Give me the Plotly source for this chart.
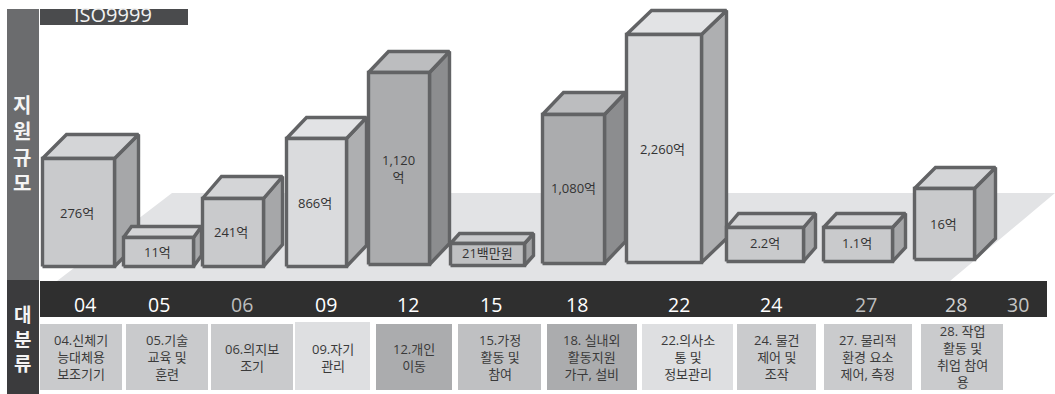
import plotly.graph_objects as go

# ---- chart content ----
codes = ["04", "05", "06", "09", "12", "15", "18", "22", "24", "27", "28", "30"]
code_tones = ["#ffffff", "#ffffff", "#bdbdbd", "#ffffff", "#ffffff", "#ffffff", "#ffffff",
              "#ffffff", "#ffffff", "#bdbdbd", "#d0d0d0", "#c4c4c4"]
value_labels = ["276억", "11억", "241억", "866억", "1,120<br>억", "21백만원",
                "1,080억", "2,260억", "2.2억", "1.1억", "16억"]
# schematic column heights on the hidden vertical axis
column_heights = [111, 32, 71, 131, 195, 25, 152, 231, 37, 37, 74]
category_names = [
    "04.신체기<br>능대체용<br>보조기기", "05.기술<br>교육 및<br>훈련", "06.의지보<br>조기",
    "09.자기<br>관리", "12.개인<br>이동", "15.가정<br>활동 및<br>참여",
    "18. 실내외<br>활동지원<br>가구, 설비", "22.의사소<br>통 및<br>정보관리",
    "24. 물건<br>제어 및<br>조작", "27. 물리적<br>환경 요소<br>제어, 측정",
    "28. 작업<br>활동 및<br>취업 참여<br>용",
]

# ---- layout of the columns (axis units = pixels) ----
W, H = 1055, 394
col_left = [41, 122, 201, 285, 367, 449, 541, 625, 725, 822, 913]
col_right = [116, 195, 265, 348, 431, 526, 606, 703, 805, 894, 976]
col_floor = [268, 268, 268, 268, 266, 267, 265, 264, 263, 263, 261]
col_dx = [24, 8, 19, 20, 20, 9, 21, 25, 12, 13, 21]
col_dy = [24, 11, 22, 21, 21, 10, 22, 24, 14, 14, 21]

# front, top, side colours per tone
TONES = {
    "mid": ("#c9cacc", "#d4d5d7", "#a6a7a9"),
    "light": ("#dadbdd", "#e2e3e5", "#aeafb1"),
    "dark": ("#abacae", "#bcbdbf", "#8c8d8f"),
    "soft": ("#bfc0c2", "#c9cacc", "#a0a1a3"),
}
col_tones = ["mid", "mid", "mid", "light", "dark", "soft", "dark", "light", "mid", "mid", "mid"]
EDGE = "#626365"

label_x = [77, 157, 231, 315, 398, 487, 573, 662, 765, 857, 943]
label_y = [213, 252, 232, 203, 168, 253, 188, 149, 243, 243, 224]
code_x = [85, 159, 242, 326, 408, 491, 577, 679, 771, 866, 956, 1018]
box_left = [40, 126, 211, 295, 376, 458, 547, 642, 737, 824, 921]
box_right = [122, 208, 293, 370, 452, 541, 637, 733, 816, 912, 1003]
box_fill = ["#c9cacc", "#c9cacc", "#c9cacc", "#dedfe1", "#abacae", "#bfc0c2",
            "#abacae", "#dedfe1", "#cacbcd", "#cacbcd", "#cacbcd"]


def level(py):
    """Convert a distance from the top edge into the upward vertical axis."""
    return H - py


def panel(x0, x1, y0, y1, color, layer="below"):
    return dict(type="rect", xref="x", yref="y", x0=x0, x1=x1, y0=level(y0), y1=level(y1),
                fillcolor=color, line_width=0, layer=layer)


def face(xs, ys, color):
    return go.Scatter(x=xs, y=ys, mode="lines", fill="toself", fillcolor=color,
                      line=dict(color=EDGE, width=3.4), hoverinfo="skip", showlegend=False)


fig = go.Figure()

# column faces, painted left to right so nearer columns cover earlier sides
inset = 1.5
for i, height in enumerate(column_heights):
    front, top, side = TONES[col_tones[i]]
    x0, x1 = col_left[i] + inset, col_right[i] - inset
    y0 = level(col_floor[i]) + inset
    y1 = y0 + height - 2 * inset
    dx, dy = col_dx[i], col_dy[i]
    fig.add_trace(face([x1, x1 + dx, x1 + dx, x1, x1], [y0, y0 + dy, y1 + dy, y1, y0], side))
    fig.add_trace(face([x0, x0 + dx, x1 + dx, x1, x0], [y1, y1 + dy, y1 + dy, y1, y1], top))
    fig.add_trace(face([x0, x1, x1, x0, x0], [y0, y0, y1, y1, y0], front))

LATIN_KR = "Open Sans, Noto Sans CJK KR, sans-serif"

shapes = [
    dict(type="path", xref="x", yref="y", layer="below", line_width=0, fillcolor="#e2e3e5",
         path=f"M57,{level(281)} L172,{level(193)} L1055,{level(193)} L950,{level(281)} Z"),
    panel(7, 39, 9, 280, "#6b6c6e"),
    panel(7, 39, 280, 394, "#3b3b3d"),
    panel(40, 188, 9, 25, "#4a4b4d"),
    panel(40, 1047, 281, 317, "#2f2f2f"),
]
for i, color in enumerate(box_fill):
    shapes.append(panel(box_left[i], box_right[i], 322 if i == 3 else 324, 390, color))

notes = []


def note(x, py, text, size, color, family=LATIN_KR):
    notes.append(dict(x=x, y=level(py), xref="x", yref="y", text=text, showarrow=False,
                      font=dict(family=family, size=size, color=color), align="center"))


note(113, 14.5, "ISO9999", 20, "#f2f2f2")
for x, py, text in zip(label_x, label_y, value_labels):
    note(x, py, text, 13, "#333333")
for x, text, tone in zip(code_x, codes, code_tones):
    note(x, 304, text, 19.5, tone)
for i, text in enumerate(category_names):
    note((box_left[i] + box_right[i]) / 2, 356 if i == 10 else 357, text, 13, "#3a3a3a")
note(22, 144, "<b>지<br>원<br>규<br>모</b>", 20, "#f4f4f4")
note(22, 339, "<b>대<br>분<br>류</b>", 19, "#f4f4f4")

fig.update_layout(
    width=W, height=H, autosize=False,
    margin=dict(l=0, r=0, t=0, b=0),
    paper_bgcolor="#ffffff", plot_bgcolor="#ffffff",
    xaxis=dict(range=[0, W], visible=False, fixedrange=True),
    yaxis=dict(range=[0, H], visible=False, fixedrange=True),
    shapes=shapes, annotations=notes, showlegend=False,
)

fig.write_html("out.html", config={"displayModeBar": False})
